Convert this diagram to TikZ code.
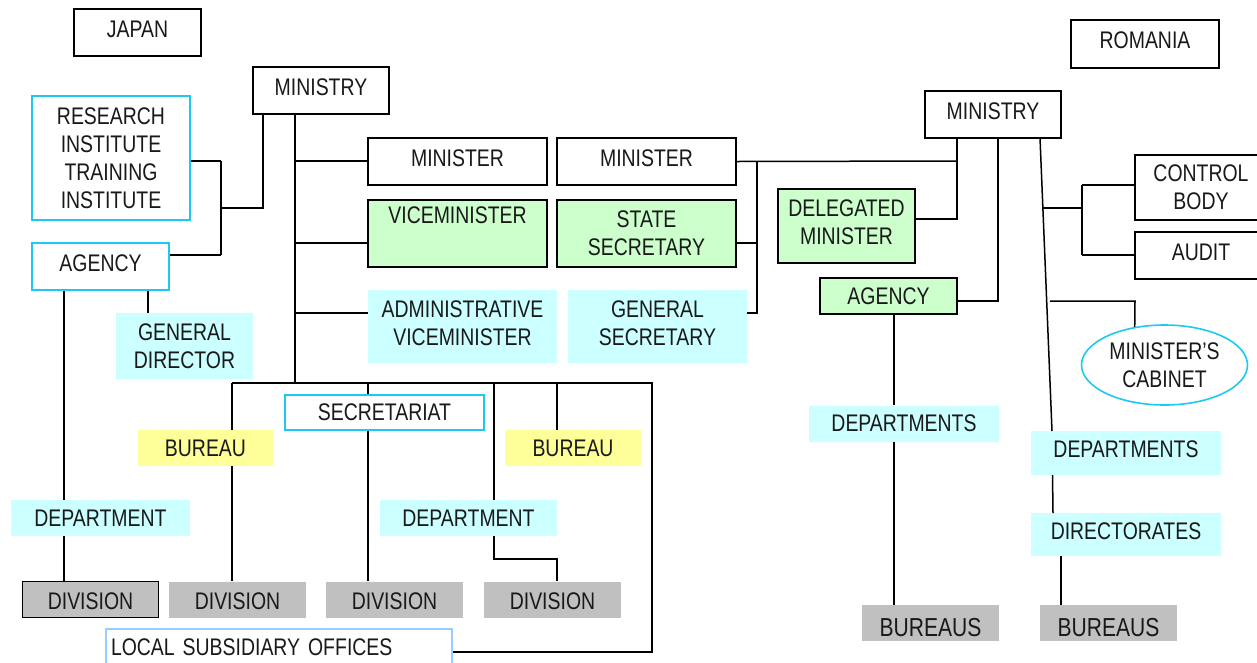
\documentclass[tikz,border=0pt]{standalone}
\usepackage{fontspec}
\setmainfont[FakeStretch=0.81]{Liberation Sans}
\usetikzlibrary{shapes.geometric}
\definecolor{cyanfill}{HTML}{CCFFFF}
\definecolor{greenfill}{HTML}{CCFFCC}
\definecolor{yellowfill}{HTML}{FFFF99}
\definecolor{grayfill}{HTML}{C0C0C0}
\definecolor{cyanline}{HTML}{1EC8F0}
\definecolor{paleblue}{HTML}{99CCFF}
\tikzset{
  every node/.style={inner sep=0pt, align=center, font=\fontsize{24}{28}\selectfont, text=black!90},
  plain/.style={draw=black, line width=1.6pt, fill=white},
  greenbox/.style={draw=black, line width=1.6pt, fill=greenfill},
  cyanbox/.style={fill=cyanfill},
  cyanframe/.style={draw=cyanline, line width=1.6pt, fill=white},
  yellowbox/.style={fill=yellowfill},
  graybox/.style={fill=grayfill},
  grayframe/.style={draw=black, line width=1.6pt, fill=grayfill},
  link/.style={draw=black, line width=1.5pt},
  textup/.style={text depth=7pt},
  textdown/.style={text height=#1},
}
\begin{document}
\begin{tikzpicture}[x=1pt, y=-1pt]
\useasboundingbox (0,0) rectangle (1257,662);
\clip (0,0) rectangle (1257,662);

% ---------------- Japan ----------------
\node[plain, textup, minimum width=127, minimum height=47] (japan) at (137.5,32.5) {JAPAN};
\node[plain, textup, minimum width=136, minimum height=47] (jministry) at (321,90.5) {MINISTRY};
\node[cyanframe, minimum width=158, minimum height=124] (jres) at (111,158) {RESEARCH\\INSTITUTE\\TRAINING\\INSTITUTE};
\node[cyanframe, textup, minimum width=137, minimum height=47] (jagency) at (100.5,266.5) {AGENCY};
\node[cyanbox, minimum width=137, minimum height=66] (jgd) at (184.5,346) {GENERAL\\DIRECTOR};
\node[plain, textup, minimum width=179, minimum height=47] (jminister) at (457.5,161.5) {MINISTER};
\node[greenbox, minimum width=179, minimum height=67] (jvice) at (457.5,233.5) {VICEMINISTER\\\strut};
\node[cyanbox, textup, minimum width=189, minimum height=73] (jadmin) at (462.5,326.5) {ADMINISTRATIVE\\VICEMINISTER};
\node[cyanframe, minimum width=199, minimum height=35] (jsecr) at (384.5,412.5) {SECRETARIAT};
\node[yellowbox, minimum width=135, minimum height=36] (jbur1) at (205.5,448) {BUREAU};
\node[yellowbox, minimum width=136, minimum height=36] (jbur2) at (573,448) {BUREAU};
\node[cyanbox, minimum width=179, minimum height=36] (jdept1) at (100.5,518) {DEPARTMENT};
\node[cyanbox, minimum width=177, minimum height=36] (jdept2) at (468.5,518) {DEPARTMENT};
\node[grayframe, textdown=21pt, minimum width=136, minimum height=36] (jdiv1) at (90.5,599.5) {DIVISION};
\node[graybox, textdown=21pt, minimum width=137, minimum height=36] (jdiv2) at (237.5,599.5) {DIVISION};
\node[graybox, textdown=21pt, minimum width=137, minimum height=36] (jdiv3) at (394.5,599.5) {DIVISION};
\node[graybox, textdown=21pt, minimum width=137, minimum height=36] (jdiv4) at (552.5,599.5) {DIVISION};
\node[draw=paleblue, line width=1.6pt, fill=white, minimum width=346, minimum height=46,
      text width=336, align=left, text depth=10pt] (jlocal) at (279,652) {LOCAL SUBSIDIARY OFFICES};

% ministry trunk and branches
\coordinate (jt) at (295,383);
\coordinate (jt1) at (295,161);
\coordinate (jt2) at (295,243);
\coordinate (jt3) at (295,313);
\draw[link] (jministry.south -| jt) -- (jt);
\draw[link] (jt1) -- (jt1 -| jminister.west);
\draw[link] (jt2) -- (jt2 -| jvice.west);
\draw[link] (jt3) -- (jt3 -| jadmin.west);

% institutes and agency
\coordinate (ja) at (263,208);
\coordinate (jb) at (221,208);
\coordinate (jc) at (221,161);
\coordinate (jd) at (221,255);
\draw[link] (jministry.south -| ja) -- (ja) -- (jb);
\draw[link] (jc) -- (jd);
\draw[link] (jc -| jres.east) -- (jc);
\draw[link] (jd -| jagency.east) -- (jd);
\coordinate (jx1) at (64,0);
\coordinate (jx2) at (148,0);
\draw[link] (jagency.south -| jx1) -- (jdept1.north -| jx1);
\draw[link] (jdept1.south -| jx1) -- (jdiv1.north -| jx1);
\draw[link] (jagency.south -| jx2) -- (jgd.north -| jx2);

% lower bracket
\coordinate (jl) at (232,383);
\coordinate (jr) at (652,383);
\coordinate (jrb) at (652,652);
\draw[link] (jl) -- (jr) -- (jrb) -- (jrb -| jlocal.east);
\draw[link] (jl) -- (jbur1.north -| jl);
\draw[link] (jbur1.south -| jl) -- (jdiv2.north -| jl);
\coordinate (js) at (368,383);
\draw[link] (js) -- (jsecr.north -| js);
\draw[link] (jsecr.south -| js) -- (jdiv3.north -| js);
\coordinate (jq) at (494,383);
\coordinate (jk1) at (494,559);
\coordinate (jk2) at (557,559);
\draw[link] (jq) -- (jdept2.north -| jq);
\draw[link] (jdept2.south -| jq) -- (jk1) -- (jk2) -- (jdiv4.north -| jk2);
\coordinate (jw) at (557,383);
\draw[link] (jw) -- (jbur2.north -| jw);

% ---------------- Romania ----------------
\node[plain, textup, minimum width=148, minimum height=48] (romania) at (1145,44) {ROMANIA};
\node[plain, textup, minimum width=136, minimum height=47] (rministry) at (993,114.5) {MINISTRY};
\node[plain, textup, minimum width=179, minimum height=47] (rminister) at (646.5,161.5) {MINISTER};
\node[greenbox, minimum width=179, minimum height=67] (rstate) at (646.5,233.5) {STATE\\SECRETARY};
\node[cyanbox, textup, minimum width=179, minimum height=73] (rgensec) at (657.5,326.5) {GENERAL\\SECRETARY};
\node[greenbox, textup, minimum width=137, minimum height=74] (rdeleg) at (846.5,226) {DELEGATED\\MINISTER};
\node[greenbox, minimum width=137, minimum height=36] (ragency) at (888.5,296) {AGENCY};
\node[plain, minimum width=132, minimum height=65] (rcontrol) at (1201,187.5) {CONTROL\\BODY};
\node[plain, textup, minimum width=132, minimum height=47] (raudit) at (1201,255.5) {AUDIT};
\node[ellipse, draw=cyanline, line width=1.6pt, fill=white, minimum width=166, minimum height=80] (rcab) at (1164.5,365) {MINISTER'S\\CABINET};
\node[cyanbox, minimum width=190, minimum height=36] (rdep1) at (904,423.5) {DEPARTMENTS};
\node[cyanbox, textup, minimum width=190, minimum height=44] (rdep2) at (1126,453) {DEPARTMENTS};
\node[cyanbox, textup, minimum width=190, minimum height=43] (rdir) at (1126,534.5) {DIRECTORATES};
\node[graybox, textdown=27pt, minimum width=137, minimum height=36, font=\fontsize{26}{30}\selectfont] (rbur1) at (930.5,623) {BUREAUS};
\node[graybox, textdown=27pt, minimum width=137, minimum height=36, font=\fontsize{26}{30}\selectfont] (rbur2) at (1108.5,623) {BUREAUS};

% minister, delegated minister
\coordinate (r1) at (957,161);
\coordinate (r2) at (957,219);
\draw[link] (rminister.east) -- (r1);
\draw[link] (rministry.south -| r1) -- (r2) -- (r2 -| rdeleg.east);
% state secretary and general secretary bracket
\coordinate (k1) at (757,161);
\coordinate (k2) at (757,243);
\coordinate (k3) at (757,313);
\draw[link] (k1) -- (k3) -- (k3 -| rgensec.east);
\draw[link] (k2 -| rstate.east) -- (k2);
% agency
\coordinate (r3) at (998,301);
\draw[link] (rministry.south -| r3) -- (r3) -- (r3 -| ragency.east);
\coordinate (rx) at (894,0);
\draw[link] (ragency.south -| rx) -- (rdep1.north -| rx);
\draw[link] (rdep1.south -| rx) -- (rbur1.north -| rx);
% slanted main line to departments
\coordinate (s0) at (1040,138);
\coordinate (s1) at (1052,431);
\draw[link] (s0) -- (s1);
\coordinate (s2) at (1052.5,475);
\coordinate (s3) at (1053,513);
\draw[link] (s2) -- (s3);
\coordinate (s4) at (1061,556);
\draw[link] (s4) -- (rbur2.north -| s4);
% control body and audit
\coordinate (c0) at (1043,208);
\coordinate (c1) at (1082,208);
\coordinate (c2) at (1082,185);
\coordinate (c3) at (1082,255);
\draw[link] (c0) -- (c1);
\draw[link] (c2) -- (c3);
\draw[link] (c2) -- (c2 -| rcontrol.west);
\draw[link] (c3) -- (c3 -| raudit.west);
% minister's cabinet
\coordinate (m0) at (1050,301);
\coordinate (m1) at (1135,301);
\draw[link] (m0) -- (m1) -- (rcab.128);
\end{tikzpicture}
\end{document}
